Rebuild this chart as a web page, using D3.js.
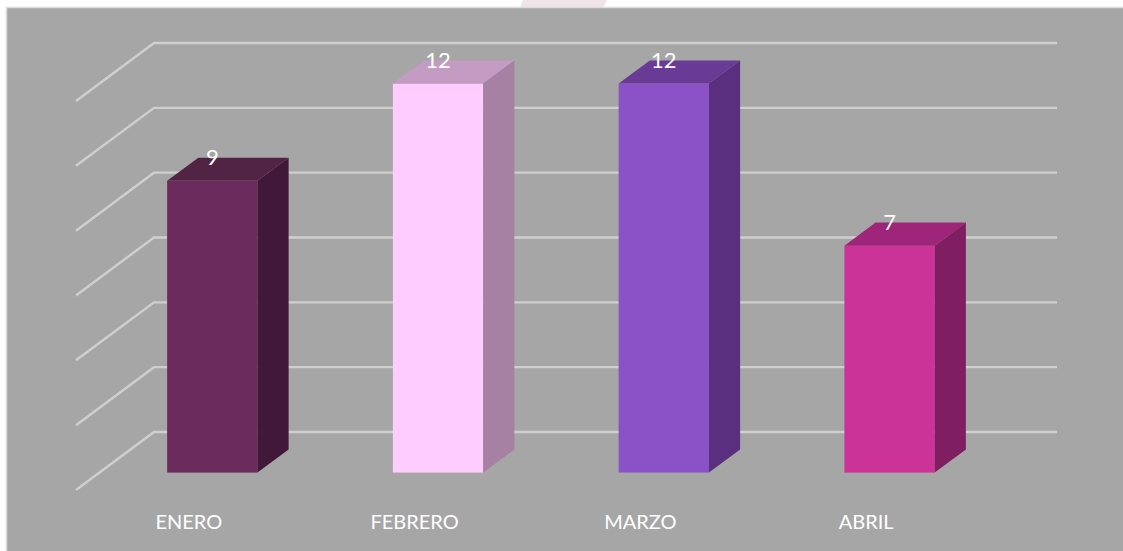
<!DOCTYPE html>
<html>
<head>
    <meta charset='utf-8'>
    <title>Enero a Abril</title>
    <style>
    html, body {
      margin: 0;
      background: #fff;
      overflow: hidden;
    }
    text {
      font-family: 'Lato', 'Open Sans', sans-serif;
      fill: #fff;
    }
    </style>
    <script src='https://d3js.org/d3.v7.min.js'></script>
</head>
<body>
<div id="container"></div>
<script>
// ******* Data *******
const months = ["ENERO", "FEBRERO", "MARZO", "ABRIL"];
const counts = [9, 12, 12, 7];
const yTicks = [0, 2, 4, 6, 8, 10, 12];

// ******* Constants *******
const width = 1123,
      height = 551;

// floor of the 3d box: front left corner and how far back the box goes
const floorX = 76,
      floorY = 490,
      depthX = 78,
      depthY = -58;

// bars sit part way into the box and are shallower than it
const barStart = 0.3,
      barDepth = 0.4,
      barPadding = 0.6;

const frontColors = ["#6b2c5d", "#ffccff", "#8b52c8", "#cc3399"],
      topColors   = ["#512344", "#c39bc3", "#693b96", "#9e2579"],
      sideColors  = ["#41183a", "#a681a3", "#5a2f80", "#7f1e60"];

// ******* Scales *******
var x = d3.scaleBand()
    .domain(months)
    .range([floorX, floorX + 903])
    .paddingInner(barPadding)
    .paddingOuter(barPadding / 2);

var y = d3.scaleLinear()
    .domain([0, 12])
    .range([0, 389]);      // height above the floor, in pixels

// ******* Create SVG *******
var svg = d3.select("#container").append("svg")
    .attr("width", width)
    .attr("height", height)
    .style("display", "block");

// pink shape that pokes out above the chart
svg.append("polygon")
    .attr("points", "523,0 607,0 603,8 520,8")
    .attr("fill", "#f0e4e9");

// ******* Panel *******
svg.append("rect")
    .attr("x", 6.5)
    .attr("y", 7.5)
    .attr("width", width)
    .attr("height", height)
    .attr("fill", "#a6a6a6")
    .attr("stroke", "#dcdcdc")
    .attr("stroke-width", 1.5);

// ******* Grid lines: side wall then back wall *******
const line = d3.line();

svg.append("g")
    .selectAll("path")
    .data(yTicks)
    .enter()
    .append("path")
    .attr("fill", "none")
    .attr("stroke", "#cfcfcf")
    .attr("stroke-width", 2.4)
    .attr("d", function(d) {
      const h = floorY - y(d);
      return line([
        [floorX, h],
        [floorX + depthX, h + depthY],
        [floorX + depthX + 903, h + depthY]
      ]);
    });

// ******* Bars *******
var bars = svg.append("g")
    .selectAll("g")
    .data(months.map(function(m, i) { return {month: m, count: counts[i], i: i}; }))
    .enter()
    .append("g");

const offX = barStart * depthX,
      offY = barStart * depthY,
      dX = barDepth * depthX,
      dY = barDepth * depthY;

// front face
bars.append("rect")
    .attr("x", function(d) { return x(d.month) + offX; })
    .attr("y", function(d) { return floorY + offY - y(d.count); })
    .attr("width", x.bandwidth())
    .attr("height", function(d) { return y(d.count); })
    .attr("fill", function(d) { return frontColors[d.i]; });

// top face
bars.append("path")
    .attr("fill", function(d) { return topColors[d.i]; })
    .attr("d", function(d) {
      const l = x(d.month) + offX,
            r = l + x.bandwidth(),
            t = floorY + offY - y(d.count);
      return line([[l, t], [r, t], [r + dX, t + dY], [l + dX, t + dY]]) + "Z";
    });

// side face
bars.append("path")
    .attr("fill", function(d) { return sideColors[d.i]; })
    .attr("d", function(d) {
      const r = x(d.month) + offX + x.bandwidth(),
            t = floorY + offY - y(d.count),
            b = floorY + offY;
      return line([[r, t], [r + dX, t + dY], [r + dX, b + dY], [r, b]]) + "Z";
    });

// value labels
bars.append("text")
    .attr("x", function(d) { return x(d.month) + offX + x.bandwidth() / 2; })
    .attr("y", function(d) { return floorY + offY - y(d.count) - 16; })
    .attr("text-anchor", "middle")
    .attr("font-size", 22)
    .text(function(d) { return d.count; });

// ******* Category labels *******
svg.append("g")
    .selectAll("text")
    .data(months)
    .enter()
    .append("text")
    .attr("x", function(d) { return x(d) + x.bandwidth() / 2; })
    .attr("y", 529)
    .attr("text-anchor", "middle")
    .attr("font-size", 20)
    .text(function(d) { return d; });
</script>
</body>
</html>
